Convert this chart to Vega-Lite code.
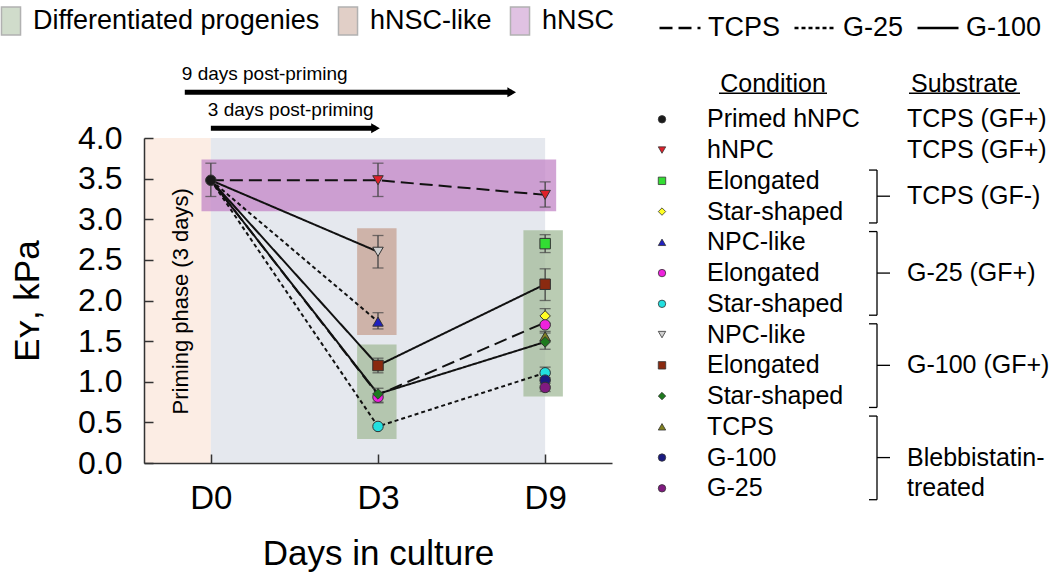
{
  "$schema": "https://vega.github.io/schema/vega-lite/v6.json",
  "autosize": {"type": "none"},
  "padding": {"left": 144, "top": 138, "right": 438, "bottom": 115},
  "width": 468,
  "height": 325,
  "background": "white",
  "config": {
    "font": "Liberation Sans",
    "view": {"stroke": null},
    "axis": {"grid": false, "domainColor": "#333", "domainWidth": 1.5, "tickColor": "#333", "tickWidth": 1.5, "labelColor": "#000", "titleColor": "#000", "titleFontWeight": "normal", "labelFont": "Liberation Sans", "titleFont": "Liberation Sans"}
  },
  "datasets": {
    "regions": [
      {"phase": "priming", "from": -0.4, "to": 0},
      {"phase": "culture", "from": 0, "to": 2}
    ],
    "bands": [
      {"band": "hNSC", "from": -0.056, "to": 2.066, "lo": 3.10, "hi": 3.735},
      {"band": "hNSC-like", "from": 0.875, "to": 1.111, "lo": 1.574, "hi": 2.89},
      {"band": "Differentiated progenies", "from": 0.875, "to": 1.111, "lo": 0.295, "hi": 1.46},
      {"band": "Differentiated progenies", "from": 1.87, "to": 2.106, "lo": 0.82, "hi": 2.866}
    ],
    "lines": [
      {"series": "hNPC", "sub": "TCPS", "slot": 0, "value": 3.48},
      {"series": "hNPC", "sub": "TCPS", "slot": 1, "value": 3.48},
      {"series": "hNPC", "sub": "TCPS", "slot": 2, "value": 3.30},
      {"series": "TCPS diff", "sub": "TCPS", "slot": 0, "value": 3.48},
      {"series": "TCPS diff", "sub": "TCPS", "slot": 1, "value": 0.84},
      {"series": "TCPS diff", "sub": "TCPS", "slot": 2, "value": 1.73},
      {"series": "G-25 NPC-like", "sub": "G-25", "slot": 0, "value": 3.48},
      {"series": "G-25 NPC-like", "sub": "G-25", "slot": 1, "value": 1.74},
      {"series": "G-25 star", "sub": "G-25", "slot": 0, "value": 3.48},
      {"series": "G-25 star", "sub": "G-25", "slot": 1, "value": 0.45},
      {"series": "G-25 star", "sub": "G-25", "slot": 2, "value": 1.11},
      {"series": "G-100 NPC-like", "sub": "G-100", "slot": 0, "value": 3.48},
      {"series": "G-100 NPC-like", "sub": "G-100", "slot": 1, "value": 2.60},
      {"series": "G-100 elongated", "sub": "G-100", "slot": 0, "value": 3.48},
      {"series": "G-100 elongated", "sub": "G-100", "slot": 1, "value": 1.20},
      {"series": "G-100 elongated", "sub": "G-100", "slot": 2, "value": 2.20},
      {"series": "G-100 star", "sub": "G-100", "slot": 0, "value": 3.48},
      {"series": "G-100 star", "sub": "G-100", "slot": 1, "value": 0.85},
      {"series": "G-100 star", "sub": "G-100", "slot": 2, "value": 1.49}
    ],
    "points": [
      {"key": "k01", "slot": 0, "value": 3.48, "lo": 3.28, "hi": 3.69},
      {"key": "k02", "slot": 1, "value": 3.48, "lo": 3.28, "hi": 3.69},
      {"key": "k02", "slot": 2, "value": 3.30, "lo": 3.15, "hi": 3.46},
      {"key": "k08", "slot": 1, "value": 2.60, "lo": 2.40, "hi": 2.80},
      {"key": "k05", "slot": 1, "value": 1.74, "lo": 1.65, "hi": 1.85},
      {"key": "k09", "slot": 1, "value": 1.20, "lo": 1.11, "hi": 1.29},
      {"key": "k06", "slot": 1, "value": 0.81, "lo": 0.74, "hi": 0.84},
      {"key": "k10", "slot": 1, "value": 0.85, "lo": 0.75, "hi": 0.92},
      {"key": "k07", "slot": 1, "value": 0.45, "lo": null, "hi": null},
      {"key": "k03", "slot": 2, "value": 2.70, "lo": 2.59, "hi": 2.81},
      {"key": "k09", "slot": 2, "value": 2.20, "lo": 2.00, "hi": 2.39},
      {"key": "k04", "slot": 2, "value": 1.81, "lo": 1.72, "hi": 1.90},
      {"key": "k06", "slot": 2, "value": 1.70, "lo": null, "hi": null},
      {"key": "k11", "slot": 2, "value": 1.56, "lo": 1.50, "hi": 1.62},
      {"key": "k10", "slot": 2, "value": 1.49, "lo": 1.40, "hi": 1.60},
      {"key": "k07", "slot": 2, "value": 1.11, "lo": 1.05, "hi": 1.18},
      {"key": "k12", "slot": 2, "value": 1.02, "lo": null, "hi": null},
      {"key": "k13", "slot": 2, "value": 0.93, "lo": 0.88, "hi": 0.98}
    ],
    "arrows": [
      {"label": "9 days post-priming", "start": -0.156, "end": 1.80, "level": 4.562},
      {"label": "3 days post-priming", "start": 0.0, "end": 0.985, "level": 4.12}
    ],
    "notes": [
      {"text": "Priming phase (3 days)", "slot": -0.18, "value": 1.99}
    ],
    "legendRows": [
      {"key": "k01", "label": "Primed hNPC", "sub": "TCPS (GF+)"},
      {"key": "k02", "label": "hNPC", "sub": "TCPS (GF+)"},
      {"key": "k03", "label": "Elongated", "sub": null},
      {"key": "k04", "label": "Star-shaped", "sub": null},
      {"key": "k05", "label": "NPC-like", "sub": null},
      {"key": "k06", "label": "Elongated", "sub": null},
      {"key": "k07", "label": "Star-shaped", "sub": null},
      {"key": "k08", "label": "NPC-like", "sub": null},
      {"key": "k09", "label": "Elongated", "sub": null},
      {"key": "k10", "label": "Star-shaped", "sub": null},
      {"key": "k11", "label": "TCPS", "sub": null},
      {"key": "k12", "label": "G-100", "sub": null},
      {"key": "k13", "label": "G-25", "sub": null}
    ],
    "groups": [
      {"group": "TCPS (GF-)", "first": "k03", "last": "k04", "mid": "k03", "n": 2},
      {"group": "G-25 (GF+)", "first": "k05", "last": "k07", "mid": "k06", "n": 3},
      {"group": "G-100 (GF+)", "first": "k08", "last": "k10", "mid": "k09", "n": 3},
      {"group": ["Blebbistatin-", "treated"], "first": "k11", "last": "k13", "mid": "k12", "n": 3}
    ],
    "headers": [
      {"key": "k00", "cond": "Condition", "sub": "Substrate"}
    ]
  },
  "resolve": {"scale": {"x": "independent", "y": "independent"}},
  "layer": [
    {
      "layer": [
        {
          "data": {"name": "regions"},
          "transform": [{"filter": "datum.phase === 'priming'"}],
          "mark": {"type": "rect", "fill": "#fcede4"},
          "encoding": {
            "x": {"field": "from", "type": "quantitative", "scale": {"domain": [-0.4, 2.4], "nice": false, "zero": false},
              "axis": {"zindex": 1, "values": [0, 1, 2], "labelExpr": "datum.value == 0 ? 'D0' : datum.value == 1 ? 'D3' : 'D9'", "labelFontSize": 33, "labelPadding": 28, "tickSize": -9, "title": "Days in culture", "titleFontSize": 35, "titlePadding": 21}},
            "x2": {"field": "to"},
            "y": {"datum": 0, "type": "quantitative", "scale": {"domain": [0, 4], "nice": false, "zero": false},
              "axis": {"zindex": 1, "values": [0, 0.5, 1, 1.5, 2, 2.5, 3, 3.5, 4], "format": ".1f", "labelFontSize": 32, "labelPadding": 31, "tickSize": -9, "title": "Eʏ, kPa", "titleFontSize": 35, "titlePadding": 32}},
            "y2": {"datum": 4}
          }
        },
        {
          "data": {"name": "regions"},
          "transform": [{"filter": "datum.phase === 'culture'"}],
          "mark": {"type": "rect", "fill": "#e5e8ee"},
          "encoding": {
            "x": {"field": "from", "type": "quantitative"},
            "x2": {"field": "to"},
            "y": {"datum": 0, "type": "quantitative"},
            "y2": {"datum": 4}
          }
        },
        {
          "data": {"name": "bands"},
          "mark": {"type": "rect", "opacity": 0.75},
          "encoding": {
            "x": {"field": "from", "type": "quantitative"},
            "x2": {"field": "to"},
            "y": {"field": "lo", "type": "quantitative"},
            "y2": {"field": "hi"},
            "fill": {"field": "band", "type": "nominal",
              "scale": {"domain": ["Differentiated progenies", "hNSC-like", "hNSC"], "range": ["#a3bb99", "#c5a191", "#c386c7"]},
              "legend": {"title": null, "orient": "none", "legendX": -148, "legendY": -132, "direction": "horizontal", "symbolType": "M-0.68,-1H0.68V1H-0.68Z", "symbolSize": 784, "symbolOpacity": 0.5, "symbolStrokeColor": "#666", "symbolStrokeWidth": 1.5, "labelFont": "Liberation Sans", "labelFontSize": 27, "labelColor": "#000", "labelOffset": 7, "columnPadding": 13, "labelLimit": 400}}
          }
        },
        {
          "data": {"name": "lines"},
          "mark": {"type": "line", "color": "#111", "strokeWidth": 2},
          "encoding": {
            "x": {"field": "slot", "type": "quantitative"},
            "y": {"field": "value", "type": "quantitative"},
            "detail": {"field": "series"},
            "strokeDash": {"field": "sub", "type": "nominal",
              "scale": {"domain": ["TCPS", "G-25", "G-100"], "range": [[13, 6], [4, 3], [1, 0]]},
              "legend": {"title": null, "orient": "none", "legendX": 514, "legendY": -132, "direction": "horizontal", "symbolType": "stroke", "symbolSize": 1681, "symbolStrokeWidth": 2.5, "symbolStrokeColor": "#000", "labelFont": "Liberation Sans", "labelFontSize": 27, "labelColor": "#000", "labelOffset": 6, "columnPadding": 8}}
          }
        },
        {
          "data": {"name": "points"},
          "transform": [{"filter": "datum.lo != null"}],
          "mark": {"type": "rule", "color": "#444", "strokeWidth": 1.3},
          "encoding": {
            "x": {"field": "slot", "type": "quantitative"},
            "y": {"field": "lo", "type": "quantitative"},
            "y2": {"field": "hi"}
          }
        },
        {
          "data": {"name": "points"},
          "transform": [{"filter": "datum.lo != null"}],
          "mark": {"type": "tick", "orient": "horizontal", "color": "#444", "size": 11, "thickness": 1.3},
          "encoding": {
            "x": {"field": "slot", "type": "quantitative"},
            "y": {"field": "lo", "type": "quantitative"}
          }
        },
        {
          "data": {"name": "points"},
          "transform": [{"filter": "datum.lo != null"}],
          "mark": {"type": "tick", "orient": "horizontal", "color": "#444", "size": 11, "thickness": 1.3},
          "encoding": {
            "x": {"field": "slot", "type": "quantitative"},
            "y": {"field": "hi", "type": "quantitative"}
          }
        },
        {
          "data": {"name": "points"},
          "mark": {"type": "point", "filled": true, "stroke": "#333", "strokeWidth": 1, "size": 110, "opacity": 1},
          "encoding": {
            "x": {"field": "slot", "type": "quantitative"},
            "y": {"field": "value", "type": "quantitative"},
            "color": {"field": "key", "type": "nominal", "legend": null,
              "scale": {"domain": ["k01","k02","k03","k04","k05","k06","k07","k08","k09","k10","k11","k12","k13"],
                "range": ["#1a1a1a","#e0202a","#33dd33","#ffff22","#2020c0","#ee22dd","#22e0e0","#d0d0d0","#8a2a10","#1e7a1e","#808020","#1a1a80","#801a80"]}},
            "shape": {"field": "key", "type": "nominal", "legend": null,
              "scale": {"domain": ["k01","k02","k03","k04","k05","k06","k07","k08","k09","k10","k11","k12","k13"],
                "range": ["circle","triangle-down","square","diamond","triangle-up","circle","circle","triangle-down","square","diamond","triangle-up","circle","circle"]}}
          }
        },
        {
          "data": {"name": "arrows"},
          "mark": {"type": "rule", "color": "#000", "strokeWidth": 5},
          "encoding": {
            "x": {"field": "start", "type": "quantitative"},
            "x2": {"field": "end"},
            "y": {"field": "level", "type": "quantitative"}
          }
        },
        {
          "data": {"name": "arrows"},
          "mark": {"type": "point", "shape": "triangle-right", "filled": true, "color": "#000", "size": 100, "opacity": 1},
          "encoding": {
            "x": {"field": "end", "type": "quantitative"},
            "y": {"field": "level", "type": "quantitative"}
          }
        },
        {
          "data": {"name": "arrows"},
          "mark": {"type": "text", "align": "left", "baseline": "alphabetic", "fontSize": 19, "dy": -12, "dx": -3, "color": "#000"},
          "encoding": {
            "x": {"field": "start", "type": "quantitative"},
            "y": {"field": "level", "type": "quantitative"},
            "text": {"field": "label"}
          }
        },
        {
          "data": {"name": "notes"},
          "mark": {"type": "text", "align": "center", "baseline": "middle", "angle": 270, "fontSize": 22, "color": "#000"},
          "encoding": {
            "x": {"field": "slot", "type": "quantitative"},
            "y": {"field": "value", "type": "quantitative"},
            "text": {"field": "text"}
          }
        }
      ]
    },
    {
      "layer": [
        {
          "data": {"name": "legendRows"},
          "mark": {"type": "point", "filled": true, "stroke": "#333", "strokeWidth": 0.8, "size": 55, "opacity": 1},
          "encoding": {
            "x": {"value": 518},
            "y": {"field": "key", "type": "nominal", "axis": null,
              "scale": {"type": "band", "domain": ["k00","k01","k02","k03","k04","k05","k06","k07","k08","k09","k10","k11","k12","k13"], "range": [-64.8, 365.7], "paddingInner": 0, "paddingOuter": 0}},
            "color": {"field": "key", "type": "nominal", "legend": null},
            "shape": {"field": "key", "type": "nominal", "legend": null}
          }
        },
        {
          "data": {"name": "legendRows"},
          "mark": {"type": "text", "align": "left", "baseline": "middle", "fontSize": 25, "color": "#000"},
          "encoding": {
            "x": {"value": 563},
            "y": {"field": "key", "type": "nominal"},
            "text": {"field": "label"}
          }
        },
        {
          "data": {"name": "legendRows"},
          "transform": [{"filter": "datum.sub != null"}],
          "mark": {"type": "text", "align": "left", "baseline": "middle", "fontSize": 25, "color": "#000"},
          "encoding": {
            "x": {"value": 763},
            "y": {"field": "key", "type": "nominal"},
            "text": {"field": "sub"}
          }
        },
        {
          "data": {"name": "headers"},
          "mark": {"type": "text", "align": "center", "baseline": "middle", "fontSize": 25, "dy": -5, "color": "#000"},
          "encoding": {
            "x": {"value": 629},
            "y": {"field": "key", "type": "nominal"},
            "text": {"field": "cond"}
          }
        },
        {
          "data": {"name": "headers"},
          "mark": {"type": "text", "align": "center", "baseline": "middle", "fontSize": 25, "dy": -5, "color": "#000"},
          "encoding": {
            "x": {"value": 820.5},
            "y": {"field": "key", "type": "nominal"},
            "text": {"field": "sub"}
          }
        },
        {
          "data": {"name": "headers"},
          "mark": {"type": "rule", "color": "#000", "strokeWidth": 1.5},
          "encoding": {
            "x": {"value": 575},
            "x2": {"value": 683},
            "y": {"field": "key", "type": "nominal", "bandPosition": 0.65}
          }
        },
        {
          "data": {"name": "headers"},
          "mark": {"type": "rule", "color": "#000", "strokeWidth": 1.5},
          "encoding": {
            "x": {"value": 765},
            "x2": {"value": 876},
            "y": {"field": "key", "type": "nominal", "bandPosition": 0.65}
          }
        },
        {
          "data": {"name": "groups"},
          "mark": {"type": "rule", "color": "#000", "strokeWidth": 1.3},
          "encoding": {
            "x": {"value": 733},
            "y": {"field": "first", "type": "nominal", "bandPosition": 0.15},
            "y2": {"field": "last", "bandPosition": 0.87}
          }
        },
        {
          "data": {"name": "groups"},
          "mark": {"type": "rule", "color": "#000", "strokeWidth": 1.3},
          "encoding": {
            "x": {"value": 725},
            "x2": {"value": 733},
            "y": {"field": "first", "type": "nominal", "bandPosition": 0.15}
          }
        },
        {
          "data": {"name": "groups"},
          "mark": {"type": "rule", "color": "#000", "strokeWidth": 1.3},
          "encoding": {
            "x": {"value": 725},
            "x2": {"value": 733},
            "y": {"field": "last", "type": "nominal", "bandPosition": 0.87}
          }
        },
        {
          "data": {"name": "groups"},
          "transform": [{"filter": "datum.n == 2"}],
          "mark": {"type": "rule", "color": "#000", "strokeWidth": 1.3},
          "encoding": {
            "x": {"value": 733},
            "x2": {"value": 746},
            "y": {"field": "first", "type": "nominal", "bandPosition": 1}
          }
        },
        {
          "data": {"name": "groups"},
          "transform": [{"filter": "datum.n == 3"}],
          "mark": {"type": "rule", "color": "#000", "strokeWidth": 1.3},
          "encoding": {
            "x": {"value": 733},
            "x2": {"value": 746},
            "y": {"field": "mid", "type": "nominal", "bandPosition": 0.5}
          }
        },
        {
          "data": {"name": "groups"},
          "transform": [{"filter": "datum.n == 2"}],
          "mark": {"type": "text", "align": "left", "baseline": "middle", "fontSize": 25, "color": "#000"},
          "encoding": {
            "x": {"value": 763},
            "y": {"field": "first", "type": "nominal", "bandPosition": 1},
            "text": {"field": "group"}
          }
        },
        {
          "data": {"name": "groups"},
          "transform": [{"filter": "datum.n == 3"}],
          "mark": {"type": "text", "align": "left", "baseline": "middle", "fontSize": 25, "lineHeight": 30, "color": "#000"},
          "encoding": {
            "x": {"value": 763},
            "y": {"field": "mid", "type": "nominal", "bandPosition": 0.5},
            "text": {"field": "group"}
          }
        }
      ]
    }
  ]
}
